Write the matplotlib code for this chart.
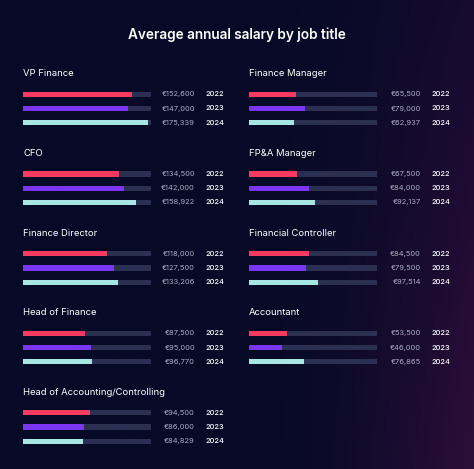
import numpy as np
import matplotlib
matplotlib.use('Agg')
from matplotlib import pyplot as plt
import matplotlib.transforms as mtransforms

plt.rcParams['font.family'] = ['Inter', 'DejaVu Sans']

# data
titles = ['VP Finance', 'CFO', 'Finance Director', 'Head of Finance',
          'Head of Accounting\u2215Controlling',
          'Finance Manager', 'FP&A Manager', 'Financial Controller', 'Accountant']
years = ['2022', '2023', '2024']
salary_2022 = [152600, 134500, 118000, 87500, 94500, 65500, 67500, 84500, 53500]
salary_2023 = [147000, 142000, 127500, 95000, 86000, 79000, 84000, 79500, 46000]
salary_2024 = [175339, 158922, 133206, 96770, 84829, 62937, 92137, 97514, 76865]
scale_max = 180000

bar_colors = ['#f73a60', '#7a36f2', '#a7e6e4']
track_color = '#2b3052'
bg_dark = np.array([7, 10, 38]) / 255.0

W, H = 474, 469
fig = plt.figure(figsize=(W / 100, H / 100), dpi=100)

# background with purple glow on the right
bg = fig.add_axes([0, 0, 1, 1])
xx = np.linspace(0, 1, 240)
yy = np.linspace(0, 1, 240)
X, Y = np.meshgrid(xx, yy)
w = np.clip((X - 0.55) / 0.45, 0, 1) ** 1.6
top_col = np.array([22, 10, 48]) / 255.0
bot_col = np.array([46, 14, 58]) / 255.0
right_col = top_col[None, None, :] * (1 - Y[..., None]) + bot_col[None, None, :] * Y[..., None]
img = bg_dark[None, None, :] * (1 - w[..., None]) + right_col * w[..., None]
bg.imshow(img, extent=[0, 1, 1, 0], aspect='auto')
bg.set_xlim(0, 1)
bg.set_ylim(1, 0)
bg.axis('off')

fig.text(237 / W, 1 - 35 / H, 'Average annual salary by job title', color='white',
         fontsize=9.8, fontweight='semibold', ha='center', va='center')

# layout in pixels
col_x = [23, 249]
row_y = [94.3, 174.0, 253.8, 333.4, 412.8]
row_gap = 14.2
track_w = 128

for i, name in enumerate(titles):
    if i < 5:
        col, row = 0, i
    else:
        col, row = 1, i - 5
    x0 = col_x[col]
    y_first = row_y[row]
    top = y_first - row_gap / 2
    ax = fig.add_axes([x0 / W, 1 - (top + 3 * row_gap) / H, track_w / W, 3 * row_gap / H])
    ax.set_xlim(0, scale_max)
    ax.set_ylim(2.5, -0.5)
    ax.axis('off')
    vals = [salary_2022[i], salary_2023[i], salary_2024[i]]
    ax.barh(range(3), [scale_max] * 3, height=0.36, color=track_color)
    ax.barh(range(3), vals, height=0.36, color=bar_colors)

    fig.text(x0 / W, 1 - (y_first - 20.5) / H, name, color='white', fontsize=6.8,
             ha='left', va='center')

    trans = mtransforms.blended_transform_factory(ax.transAxes, ax.transData)
    for j, v in enumerate(vals):
        ax.text((track_w + 44) / track_w, j, '\u20ac{:,}'.format(v), transform=trans,
                color='#a9adc2', fontsize=5.4, ha='right', va='center')
        ax.text((track_w + 54) / track_w, j, years[j], transform=trans,
                color='white', fontsize=5.4, ha='left', va='center', fontweight='medium')

fig.savefig('out.png', dpi=100, facecolor=bg_dark)
